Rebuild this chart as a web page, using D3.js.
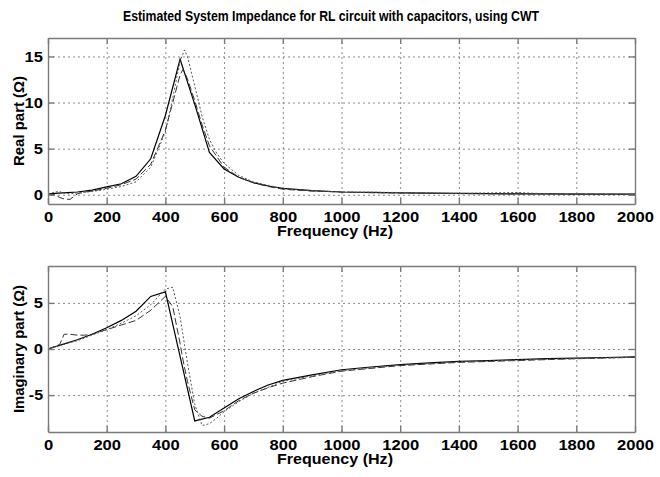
<!DOCTYPE html>
<html>
<head>
<meta charset="utf-8">
<script src="https://cdn.jsdelivr.net/npm/d3@7"></script>
<style>
  html, body { margin: 0; padding: 0; background: #fff; }
  svg { display: block; font-family: "Liberation Sans", Arial, sans-serif; }
  .grid line { stroke: #8a8a8a; stroke-dasharray: 2,3; }
  .grid path { display: none; }
  .frame path, .frame line { stroke: #7a7a7a; stroke-width: 1.4; }
  .lbl { font-weight: bold; fill: #000; }
</style>
</head>
<body>
<div id="chart"></div>
<script>
// CWT impedance estimate — real and imaginary parts vs frequency

// ---- Data ----
const xTicks = [0, 200, 400, 600, 800, 1000, 1200, 1400, 1600, 1800, 2000];
const realTicks = [0, 5, 10, 15];
const imagTicks = [-5, 0, 5];

// solid (reference)
const freqA = [0,50,100,150,200,250,300,350,400,450,500,550,600,650,700,750,800,900,1000,1100,1200,1300,1400,1500,1600,1700,1800,1900,2000];
const realA = [0.1,0.2,0.3,0.5,0.85,1.2,2.0,3.9,8.6,14.7,9.8,4.6,2.8,1.9,1.3,0.95,0.7,0.45,0.3,0.25,0.2,0.17,0.15,0.12,0.1,0.09,0.08,0.07,0.06];
const imagA = [0,0.5,1.0,1.6,2.3,3.1,4.1,5.7,6.2,-0.8,-7.8,-7.4,-6.4,-5.4,-4.6,-3.9,-3.4,-2.8,-2.25,-1.95,-1.7,-1.5,-1.35,-1.25,-1.15,-1.05,-1.0,-0.92,-0.85];

// long dash estimate
const freqB = [0,25,40,55,75,100,125,150,200,250,300,350,400,425,450,460,475,500,525,550,600,650,700,750,800,900,1000,1100,1200,1400,1600,1800,2000];
const realB = [0.1,0.0,-0.3,-0.45,-0.5,0.1,0.3,0.4,0.7,1.1,1.7,3.3,7.0,10.0,13.0,13.6,12.6,10.2,7.6,5.3,3.0,1.9,1.3,0.9,0.6,0.4,0.3,0.22,0.2,0.12,0.1,0.08,0.05];
const imagB = [0,0.3,0.5,1.6,1.6,1.5,1.5,1.6,2.1,2.6,3.1,4.2,5.7,4.6,0.6,-1.2,-3.5,-6.6,-7.3,-7.5,-6.7,-5.6,-4.8,-4.2,-3.7,-3.0,-2.4,-2.1,-1.8,-1.45,-1.25,-1.05,-0.9];

// short dash estimate
const freqC = [0,25,40,50,75,100,150,200,250,300,350,400,425,450,465,475,500,525,550,575,600,650,700,800,900,1000,1200,1300,1400,1600,1700,1800,2000];
const realC = [0.1,0.3,0.35,0.2,0.1,0.2,0.35,0.6,0.9,1.4,3.0,6.8,10.5,14.5,15.7,15.0,11.8,8.5,6.0,4.5,3.4,2.1,1.4,0.65,0.45,0.3,0.25,0.2,0.15,0.25,0.1,0.08,0.05];
const imagC = [0,0.25,0.35,0.45,0.7,0.9,1.5,2.1,2.8,3.6,4.8,6.5,6.7,3.5,0.5,-1.5,-6.0,-8.3,-8.1,-7.5,-6.8,-5.7,-4.8,-3.5,-2.9,-2.35,-1.75,-1.6,-1.4,-1.2,-1.1,-1.05,-0.9];

const seriesStyle = [
  { dash: null,  color: "#000",    width: 1.2 },
  { dash: "7,3", color: "#333",    width: 1 },
  { dash: "2,2", color: "#555",    width: 1 }
];

// ---- Layout ----
const W = 660, H = 477;
const svg = d3.select("#chart").append("svg").attr("width", W).attr("height", H);

const x0 = 48, x1 = 635;

function charW(s){ let w = 0; for (const c of s) w += (c === "-" ? 5 : 9.2); return w; }

function panel(top, bottom, yDomain, yTicks, freqs, vals, ylabel, ylabelLen){
  const x = d3.scaleLinear().domain([0, 2000]).range([x0, x1]);
  const y = d3.scaleLinear().domain(yDomain).range([bottom, top]);
  const g = svg.append("g");

  // grid
  g.append("g").attr("class","grid")
    .attr("transform",`translate(0,${bottom})`)
    .call(d3.axisBottom(x).tickValues(xTicks).tickSize(-(bottom-top)).tickFormat(""));
  g.append("g").attr("class","grid")
    .attr("transform",`translate(${x0},0)`)
    .call(d3.axisLeft(y).tickValues(yTicks).tickSize(-(x1-x0)).tickFormat(""));

  // lines
  const line = d3.line().x(d=>x(d[0])).y(d=>y(d[1]));
  freqs.forEach((f,i)=>{
    const st = seriesStyle[i];
    g.append("path")
      .datum(f.map((v,k)=>[v, vals[i][k]]))
      .attr("d", line)
      .attr("fill","none")
      .attr("stroke", st.color)
      .attr("stroke-width", st.width)
      .attr("stroke-dasharray", st.dash);
  });

  // frame + inward ticks
  const bx = g.append("g").attr("class","frame").attr("transform",`translate(0,${bottom})`)
    .call(d3.axisBottom(x).tickValues(xTicks).tickSizeInner(-6).tickSizeOuter(0).tickPadding(7).tickFormat(d3.format("d")));
  g.append("g").attr("class","frame").attr("transform",`translate(0,${top})`)
    .call(d3.axisTop(x).tickValues(xTicks).tickSizeInner(-6).tickSizeOuter(0).tickFormat(""));
  const ly = g.append("g").attr("class","frame").attr("transform",`translate(${x0},0)`)
    .call(d3.axisLeft(y).tickValues(yTicks).tickSizeInner(-6).tickSizeOuter(0).tickPadding(5));
  g.append("g").attr("class","frame").attr("transform",`translate(${x1},0)`)
    .call(d3.axisRight(y).tickValues(yTicks).tickSizeInner(-6).tickSizeOuter(0).tickFormat(""));

  [bx, ly].forEach(a => a.selectAll("text")
    .attr("class","lbl")
    .style("font-size","15px")
    .attr("textLength", function(){ return charW(this.textContent); })
    .attr("lengthAdjust","spacingAndGlyphs"));
  ly.selectAll("text").text(function(){ return this.textContent.replace("−","-"); })
    .attr("textLength", function(){ return charW(this.textContent); });

  // axis labels
  g.append("text").attr("class","lbl")
    .attr("x", 335).attr("y", bottom + 32)
    .attr("text-anchor","middle").style("font-size","14.5px")
    .attr("textLength", 116).attr("lengthAdjust","spacingAndGlyphs")
    .text("Frequency (Hz)");
  g.append("text").attr("class","lbl")
    .attr("transform",`translate(24,${(top+bottom)/2}) rotate(-90)`)
    .attr("text-anchor","middle").style("font-size","14.5px")
    .attr("textLength", ylabelLen).attr("lengthAdjust","spacingAndGlyphs")
    .text(ylabel);
}

panel(38, 204, [-1, 17], realTicks, [freqA, freqB, freqC], [realA, realB, realC], "Real part (Ω)", 90);
panel(266, 432, [-9, 9], imagTicks, [freqA, freqB, freqC], [imagA, imagB, imagC], "Imaginary part (Ω)", 128);

svg.append("text").attr("class","lbl")
  .attr("x", 331).attr("y", 21)
  .attr("text-anchor","middle").style("font-size","15px")
  .attr("textLength", 416).attr("lengthAdjust","spacingAndGlyphs")
  .text("Estimated System Impedance for RL circuit with capacitors, using CWT");
</script>
</body>
</html>
